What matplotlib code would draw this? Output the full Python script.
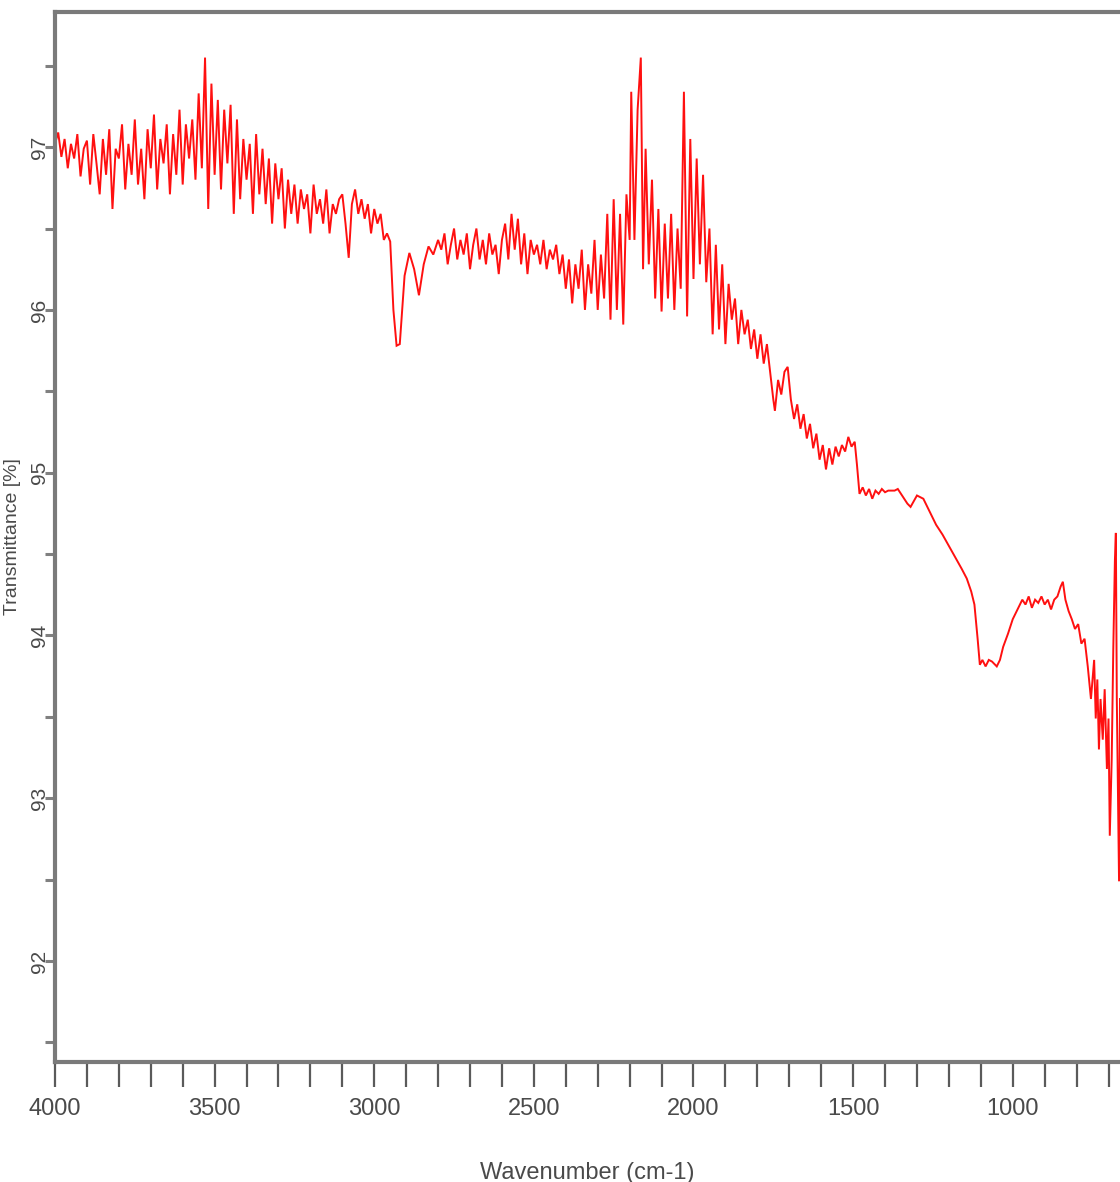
import matplotlib
matplotlib.use("Agg")
import matplotlib.pyplot as plt
from matplotlib.ticker import MultipleLocator

plt.rcParams['font.family'] = ['Liberation Sans Narrow', 'Liberation Sans', 'DejaVu Sans']

# ---- data: (wavenumber cm-1, transmittance %) ----
seg_oh = [(4000, 97.02), (3990, 97.09), (3980, 96.94), (3970, 97.05), (3960, 96.87), (3950, 97.02),
          (3940, 96.93), (3930, 97.08), (3920, 96.82), (3910, 96.99), (3900, 97.04), (3890, 96.77),
          (3880, 97.08), (3870, 96.90), (3860, 96.71), (3850, 97.05), (3840, 96.83), (3830, 97.11),
          (3820, 96.62), (3810, 96.99), (3800, 96.93), (3790, 97.14), (3780, 96.74), (3770, 97.02),
          (3760, 96.83), (3750, 97.17), (3740, 96.77), (3730, 96.99), (3720, 96.68), (3710, 97.11),
          (3700, 96.87), (3690, 97.20), (3680, 96.74), (3670, 97.05), (3660, 96.90), (3650, 97.14),
          (3640, 96.71), (3630, 97.08), (3620, 96.83), (3610, 97.23), (3600, 96.77), (3590, 97.14),
          (3580, 96.93), (3570, 97.17), (3560, 96.80), (3550, 97.33), (3540, 96.87)]

seg_oh2 = [(3530, 97.55), (3520, 96.62), (3510, 97.39), (3500, 96.83), (3490, 97.29), (3480, 96.74),
           (3470, 97.23), (3460, 96.90), (3450, 97.26), (3440, 96.59), (3430, 97.17), (3420, 96.68),
           (3410, 97.05), (3400, 96.80), (3390, 97.02), (3380, 96.59), (3370, 97.08), (3360, 96.71),
           (3350, 96.99), (3340, 96.65), (3330, 96.93), (3320, 96.53), (3310, 96.90), (3300, 96.68),
           (3290, 96.87), (3280, 96.50), (3270, 96.80), (3260, 96.59), (3250, 96.77), (3240, 96.53),
           (3230, 96.74), (3220, 96.62), (3210, 96.71), (3200, 96.47), (3190, 96.77), (3180, 96.59),
           (3170, 96.68), (3160, 96.53), (3150, 96.74), (3140, 96.47), (3130, 96.65), (3120, 96.59),
           (3110, 96.68), (3100, 96.71), (3090, 96.53), (3080, 96.32), (3070, 96.65), (3060, 96.74),
           (3050, 96.59), (3040, 96.68), (3030, 96.56), (3020, 96.65), (3010, 96.47), (3000, 96.62)]

seg_ch = [(2990, 96.53), (2980, 96.59), (2970, 96.43), (2960, 96.47), (2950, 96.42), (2940, 96.00),
          (2930, 95.78), (2920, 95.79), (2905, 96.21), (2890, 96.35), (2875, 96.25), (2860, 96.09),
          (2845, 96.28), (2830, 96.39), (2815, 96.34), (2800, 96.43)]

seg_mid = [(2790, 96.37), (2780, 96.47), (2770, 96.28), (2760, 96.40), (2750, 96.50), (2740, 96.31),
           (2730, 96.43), (2720, 96.34), (2710, 96.47), (2700, 96.25), (2690, 96.40), (2680, 96.50),
           (2670, 96.31), (2660, 96.43), (2650, 96.28), (2640, 96.47), (2630, 96.34), (2620, 96.40),
           (2610, 96.22), (2600, 96.43), (2590, 96.53), (2580, 96.31), (2570, 96.59), (2560, 96.37),
           (2550, 96.56), (2540, 96.28), (2530, 96.47), (2520, 96.22), (2510, 96.43), (2500, 96.34),
           (2490, 96.40), (2480, 96.28), (2470, 96.43), (2460, 96.25), (2450, 96.37), (2440, 96.31),
           (2430, 96.40), (2420, 96.22), (2410, 96.34), (2400, 96.13), (2390, 96.31), (2380, 96.04),
           (2370, 96.28), (2360, 96.13), (2350, 96.37), (2340, 96.00), (2330, 96.28), (2320, 96.10),
           (2310, 96.43), (2300, 96.00), (2290, 96.34), (2280, 96.07), (2270, 96.59), (2260, 95.94),
           (2250, 96.68)]

seg_co2 = [(2240, 96.00), (2230, 96.59), (2220, 95.91), (2210, 96.71), (2200, 96.43), (2195, 97.34),
           (2185, 96.43), (2175, 97.23), (2165, 97.55), (2158, 96.25), (2150, 96.99), (2140, 96.28),
           (2130, 96.80), (2120, 96.07), (2110, 96.62), (2100, 95.99), (2090, 96.53), (2080, 96.07),
           (2070, 96.59), (2060, 96.00), (2050, 96.50), (2040, 96.13), (2030, 97.34), (2020, 95.96),
           (2010, 97.05), (2000, 96.19), (1990, 96.93), (1980, 96.28), (1970, 96.83), (1960, 96.17),
           (1950, 96.50), (1940, 95.85), (1930, 96.40), (1920, 95.88), (1910, 96.28), (1900, 95.79),
           (1890, 96.16), (1880, 95.94), (1870, 96.07), (1860, 95.79), (1850, 96.00), (1840, 95.85),
           (1830, 95.94), (1820, 95.76), (1810, 95.88), (1800, 95.70), (1790, 95.85), (1780, 95.67),
           (1770, 95.79), (1760, 95.62)]

seg_fp = [(1750, 95.45), (1745, 95.38), (1735, 95.57), (1725, 95.48), (1715, 95.62), (1705, 95.65),
          (1695, 95.45), (1685, 95.33), (1675, 95.42), (1665, 95.27), (1655, 95.36), (1645, 95.21),
          (1635, 95.30), (1625, 95.15), (1615, 95.24), (1605, 95.08), (1595, 95.17), (1585, 95.02),
          (1575, 95.15), (1565, 95.05), (1555, 95.16), (1545, 95.10), (1535, 95.17), (1525, 95.13),
          (1515, 95.22), (1505, 95.16), (1495, 95.19), (1488, 95.05), (1480, 94.87), (1470, 94.91),
          (1460, 94.86), (1450, 94.90), (1440, 94.84), (1430, 94.89), (1420, 94.87), (1410, 94.90),
          (1400, 94.88), (1390, 94.89), (1380, 94.89), (1370, 94.89), (1360, 94.90), (1350, 94.87),
          (1340, 94.84), (1330, 94.81), (1320, 94.79), (1300, 94.86), (1280, 94.84), (1260, 94.76),
          (1240, 94.68), (1220, 94.62), (1200, 94.55), (1180, 94.48), (1160, 94.41), (1144, 94.35),
          (1130, 94.27)]

seg_low = [(1120, 94.19), (1110, 93.98), (1103, 93.82), (1095, 93.85), (1085, 93.81), (1075, 93.85),
           (1065, 93.84), (1050, 93.81), (1040, 93.85), (1030, 93.93), (1015, 94.01), (1000, 94.10),
           (985, 94.16), (970, 94.22), (960, 94.19), (950, 94.24), (940, 94.17), (930, 94.22),
           (920, 94.20), (910, 94.24), (900, 94.19), (890, 94.22), (880, 94.16), (870, 94.22),
           (860, 94.24), (850, 94.30), (843, 94.33), (835, 94.22), (825, 94.15), (815, 94.10),
           (805, 94.04), (795, 94.07), (785, 93.95), (775, 93.98), (765, 93.81), (755, 93.61),
           (745, 93.85), (740, 93.49), (735, 93.73), (730, 93.30), (725, 93.61), (718, 93.36),
           (712, 93.67), (705, 93.18), (700, 93.49), (696, 92.77), (690, 93.24), (685, 93.92),
           (680, 94.46), (677, 94.63), (674, 93.61), (670, 93.00), (667, 92.49), (664, 93.61)]

x_ticks = [4000, 3500, 3000, 2500, 2000, 1500, 1000]
x_tick_labels = ["4000", "3500", "3000", "2500", "2000", "1500", "1000"]
y_ticks = [92, 93, 94, 95, 96, 97]
y_tick_labels = ["92", "93", "94", "95", "96", "97"]
x_title = "Wavenumber (cm-1)"
y_title = "Transmittance [%]"

spectrum = seg_oh + seg_oh2 + seg_ch + seg_mid + seg_co2 + seg_fp + seg_low
wn = [p[0] for p in spectrum]
tr = [p[1] for p in spectrum]

W, H = 1120, 1182
fig = plt.figure(figsize=(W / 100, H / 100), dpi=100)
ax = fig.add_axes([55 / W, 1 - 1062 / H, 1 - 55 / W, (1062 - 12) / H])

ax.plot(wn, tr, color='#ff1010', lw=1.4, solid_joinstyle='miter')

ax.set_xlim(4000, 664)
ax.set_ylim(91.38, 97.83)

ax.set_xticks(x_ticks)
ax.set_xticklabels(x_tick_labels)
ax.xaxis.set_minor_locator(MultipleLocator(100))
ax.set_yticks(y_ticks)
ax.set_yticklabels(y_tick_labels, rotation=90, va='center')
ax.yaxis.set_minor_locator(MultipleLocator(0.5))

txt = '#4a4a4a'
ax.tick_params(axis='x', which='both', direction='out', length=18, width=1.6,
               color='#5a5a5a', pad=8, labelsize=17, labelcolor=txt)
ax.tick_params(axis='y', which='both', direction='out', length=7, width=2.2,
               color='#808080', pad=-3, labelsize=15, labelcolor=txt)

for side in ['left', 'top', 'bottom']:
    ax.spines[side].set_color('#7a7a7a')
    ax.spines[side].set_linewidth(3)
ax.spines['right'].set_visible(False)

ax.set_xlabel(x_title, fontsize=17, color=txt)
ax.xaxis.set_label_coords(0.5, -0.095)
ax.set_ylabel(y_title, fontsize=14, color=txt, va='center')
ax.yaxis.set_label_coords(-0.040, 0.5)

fig.savefig('out.png', dpi=100, facecolor='white')
